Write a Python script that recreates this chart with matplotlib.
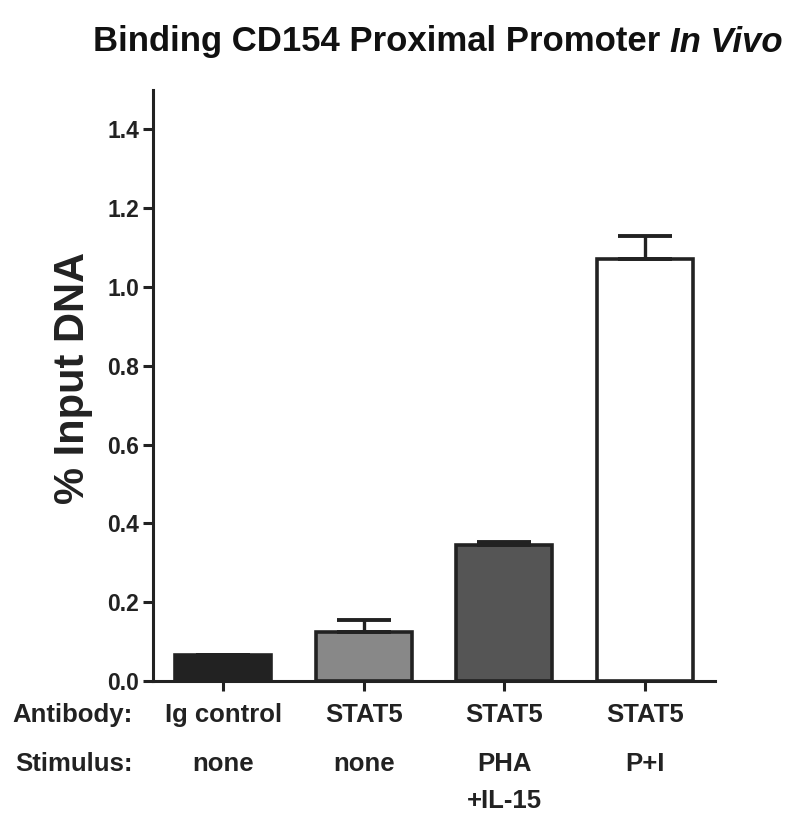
import matplotlib
matplotlib.use("Agg")
import matplotlib.pyplot as plt

antibody = ["Ig control", "STAT5", "STAT5", "STAT5"]
stimulus = ["none", "none", "PHA\n+IL-15", "P+I"]
values = [0.065, 0.125, 0.345, 1.07]
errors = [0.0, 0.03, 0.008, 0.06]
colors = ["#222222", "#888888", "#555555", "#ffffff"]
yticks = [0.0, 0.2, 0.4, 0.6, 0.8, 1.0, 1.2, 1.4]

plt.rcParams['font.family'] = ['Liberation Sans', 'DejaVu Sans']
plt.rcParams['font.weight'] = 'bold'

W, H = 800, 819
fig = plt.figure(figsize=(W / 100, H / 100), dpi=100)
ax = fig.add_axes([153 / W, 1 - 681 / H, (715 - 153) / W, (681 - 90) / H])

x = list(range(len(values)))
ax.bar(x, values, width=0.68, color=colors, edgecolor="#222222", linewidth=2.6, zorder=2)
ax.errorbar(x, values, yerr=[[0] * len(errors), errors], fmt='none', ecolor="#222222",
            elinewidth=2.4, capsize=19.5, capthick=2.8, zorder=3)

ax.set_xlim(-0.5, 3.5)
ax.set_ylim(0, 1.5)
ax.set_yticks(yticks)
ax.set_yticklabels([f"{v:.1f}" for v in yticks], fontsize=16.5, fontweight='bold', color="#222222")
ax.set_xticks(x)
ax.set_xticklabels([])
for s in ['top', 'right']:
    ax.spines[s].set_visible(False)
for s in ['left', 'bottom']:
    ax.spines[s].set_linewidth(2.2)
    ax.spines[s].set_color("#222222")
ax.tick_params(axis='y', length=7, width=2.2, color="#222222", pad=3)
ax.tick_params(axis='x', length=7, width=2.2, color="#222222")

ax.set_ylabel("% Input DNA", fontsize=30, fontweight='bold', color="#222222")
ax.yaxis.set_label_coords((93 - 153) / (715 - 153), (681 - 378) / (681 - 90))

fs = 18.5
fig.text(12 / W, 1 - 715 / H, "Antibody:", fontsize=fs, fontweight='bold', ha='left', va='center', color="#222222")
fig.text(15 / W, 1 - 764 / H, "Stimulus:", fontsize=fs, fontweight='bold', ha='left', va='center', color="#222222")
for xi, a, s in zip(x, antibody, stimulus):
    ax.annotate(a, xy=(xi, 0), xycoords=('data', 'axes fraction'), xytext=(0, -(715 - 681)),
                textcoords='offset pixels', ha='center', va='center', fontsize=fs, fontweight='bold', color="#222222")
    for j, line in enumerate(s.split("\n")):
        ax.annotate(line, xy=(xi, 0), xycoords=('data', 'axes fraction'), xytext=(0, -(764 - 681) - 37 * j),
                    textcoords='offset pixels', ha='center', va='center', fontsize=fs, fontweight='bold',
                    color="#222222")

main = fig.text(93 / W, 1 - 42 / H, "Binding CD154 Proximal Promoter ", fontsize=25, fontweight='bold',
                ha='left', va='center', color="#111111")
fig.canvas.draw()
bb = main.get_window_extent(fig.canvas.get_renderer())
fig.text(bb.x1 / W, 1 - 42 / H, "In Vivo", fontsize=25, fontweight='bold', style='italic',
         ha='left', va='center', color="#111111")

fig.savefig("out.png", dpi=100)
